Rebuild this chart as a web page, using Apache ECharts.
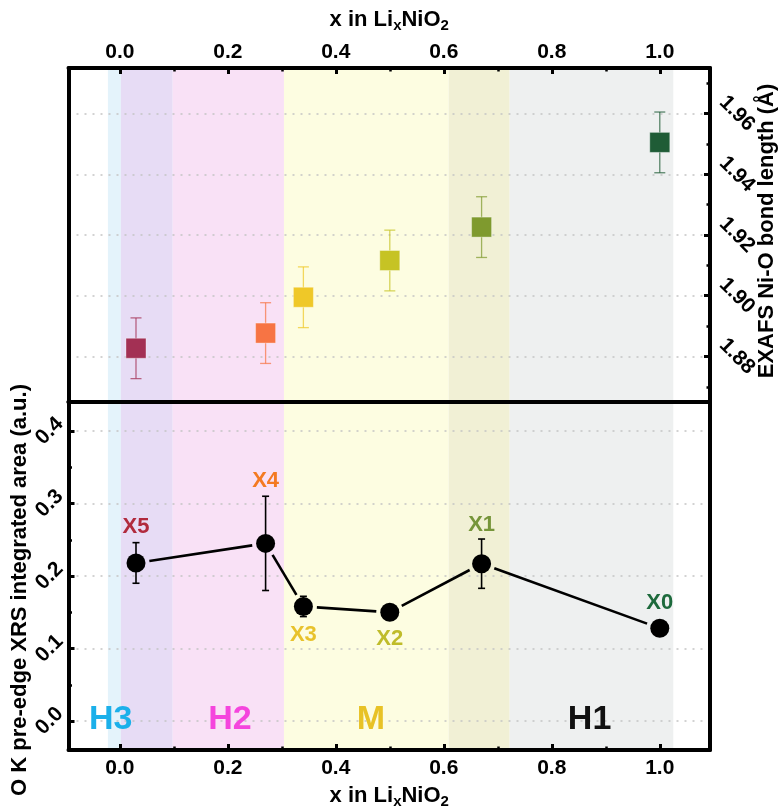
<!DOCTYPE html>
<html>
<head>
<meta charset="utf-8">
<script src="https://cdn.jsdelivr.net/npm/echarts@6/dist/echarts.min.js"></script>
<style>
  html, body { margin: 0; padding: 0; background: #fff; }
  #chart { width: 783px; height: 807px; }
</style>
</head>
<body>
<div id="chart"></div>
<script>
// Samples along the delithiation path of LixNiO2
const sampleNames   = ['X5', 'X4', 'X3', 'X2', 'X1', 'X0'];
const liContent     = [0.03, 0.27, 0.34, 0.50, 0.67, 1.00];
// EXAFS Ni-O bond length (Å) with uncertainty
const bondLength    = [1.8827, 1.8877, 1.8995, 1.9116, 1.9226, 1.9505];
const bondLengthErr = [0.010, 0.010, 0.010, 0.010, 0.010, 0.010];
// O K pre-edge XRS integrated area (a.u.) with uncertainty
const preEdgeArea    = [0.218, 0.245, 0.158, 0.150, 0.217, 0.128];
const preEdgeAreaErr = [0.028, 0.065, 0.014, 0.000, 0.034, 0.000];

// Phase regions (H3, H2, M, H1) as shaded bands; overlaps get their own tint
const bandStart = [-0.022, 0.002, 0.098, 0.304, 0.609, 0.722];
const bandEnd   = [ 0.002, 0.098, 0.304, 0.609, 0.722, 1.025];
const phaseNames = ['H3', 'H2', 'M', 'H1'];
const phaseLabelX = [-0.017, 0.204, 0.465, 0.870];

// Tick values
const xMajorTicks = [0, 0.2, 0.4, 0.6, 0.8, 1.0];
const xMinorTicks = [0.1, 0.3, 0.5, 0.7, 0.9];
const bondMajorTicks = [1.88, 1.90, 1.92, 1.94, 1.96];
const bondMinorTicks = [1.87, 1.89, 1.91, 1.93, 1.95, 1.97];
const areaMajorTicks = [0, 0.1, 0.2, 0.3, 0.4];
const areaMinorTicks = [0.05, 0.15, 0.25, 0.35];

// ---- styling ----
const FONT = '"Liberation Sans", Arial, Helvetica, sans-serif';
const bandColors   = ['#e4f3fb', '#e7dcf5', '#f9e1f6', '#fdfde1', '#f1f0d5', '#eef0f0'];
const squareColors = ['#a33054', '#f77444', '#efc828', '#c6c324', '#7f9a2e', '#1f5c36'];
const sampleLabelColors = ['#b12a3d', '#f47a22', '#e8c22c', '#bfbc2a', '#76953a', '#1d6a3c'];
const sampleLabelShift = [[0, -36], [0, -62], [0, 28], [0, 27], [0, -39], [0, -25]];
const phaseColors = ['#1bb0ea', '#f545dd', '#e8c226', '#111111'];

const X_MIN = -0.095, X_MAX = 1.093;
const BOND_MIN = 1.865, BOND_MAX = 1.975;
const AREA_MIN = -0.04, AREA_MAX = 0.44;

const FRAME = { color: '#000', width: 4 };

function lineOnlyAxis(gridIndex, position, min, max) {
  return {
    type: 'value', gridIndex, position, min, max, z: 5,
    axisLine: { show: true, onZero: false, lineStyle: FRAME },
    axisTick: { show: false }, axisLabel: { show: false }, splitLine: { show: false }
  };
}
function minorTickAxis(gridIndex, position, min, max, values) {
  return {
    type: 'value', gridIndex, position, min, max, z: 5,
    axisLine: { show: false, onZero: false },
    axisTick: { show: true, inside: true, length: 3.5, customValues: values,
                lineStyle: { color: '#000', width: 2.5 } },
    axisLabel: { show: false }, splitLine: { show: false }
  };
}
const tickLabelStyle = { fontFamily: FONT, fontSize: 21, fontWeight: 'bold', color: '#000' };
const majorTick = (values) => ({ show: true, inside: true, length: 6, customValues: values,
                                 lineStyle: { color: '#000', width: 3 } });
const dotted = { show: true, lineStyle: { color: '#c4c4c4', width: 1.5, type: [2, 6] } };

const xTitle = '{m|x in Li}{s|x}{m|NiO}{s|2}';
const xTitleStyle = {
  rich: {
    m: { fontFamily: FONT, fontSize: 22, fontWeight: 'bold', color: '#000' },
    s: { fontFamily: FONT, fontSize: 15, fontWeight: 'bold', color: '#000', padding: [11, 0, 0, 0] }
  }
};

const xAxes = [
  { // top panel, upper axis with labels
    type: 'value', gridIndex: 0, position: 'top', min: X_MIN, max: X_MAX, z: 5,
    axisLine: { show: true, onZero: false, lineStyle: FRAME },
    axisTick: majorTick(xMajorTicks),
    axisLabel: Object.assign({ customValues: xMajorTicks, margin: 5,
                               formatter: v => v.toFixed(1) }, tickLabelStyle),
    splitLine: { show: false },
    name: xTitle, nameLocation: 'middle', nameGap: 35, nameTextStyle: xTitleStyle
  },
  minorTickAxis(0, 'top', X_MIN, X_MAX, xMinorTicks),
  lineOnlyAxis(0, 'bottom', X_MIN, X_MAX),
  { // bottom panel, lower axis with labels
    type: 'value', gridIndex: 1, position: 'bottom', min: X_MIN, max: X_MAX, z: 5,
    axisLine: { show: true, onZero: false, lineStyle: FRAME },
    axisTick: majorTick(xMajorTicks),
    axisLabel: Object.assign({ customValues: xMajorTicks, margin: 8,
                               formatter: v => v.toFixed(1) }, tickLabelStyle),
    splitLine: { show: false },
    name: xTitle, nameLocation: 'middle', nameGap: 33, nameTextStyle: xTitleStyle
  },
  minorTickAxis(1, 'bottom', X_MIN, X_MAX, xMinorTicks),
  lineOnlyAxis(1, 'top', X_MIN, X_MAX)
];

const yAxes = [
  { // top panel, bond length on the right
    type: 'value', gridIndex: 0, position: 'right', min: BOND_MIN, max: BOND_MAX, z: 5,
    axisLine: { show: true, onZero: false, lineStyle: FRAME },
    axisTick: majorTick(bondMajorTicks),
    axisLabel: Object.assign({ customValues: bondMajorTicks, margin: 27, rotate: -45,
                               align: 'center', verticalAlign: 'middle',
                               formatter: v => v.toFixed(2) }, tickLabelStyle),
    splitLine: dotted,
    name: 'EXAFS Ni-O bond length (Å)', nameLocation: 'middle', nameRotate: 90, nameGap: 46,
    nameMoveOverlap: false,
    nameTextStyle: { fontFamily: FONT, fontSize: 22, fontWeight: 'bold', color: '#000',
                     padding: [0, 0, 0, 8] }
  },
  minorTickAxis(0, 'right', BOND_MIN, BOND_MAX, bondMinorTicks),
  lineOnlyAxis(0, 'left', BOND_MIN, BOND_MAX),
  { // bottom panel, pre-edge area on the left
    type: 'value', gridIndex: 1, position: 'left', min: AREA_MIN, max: AREA_MAX, z: 5,
    axisLine: { show: true, onZero: false, lineStyle: FRAME },
    axisTick: majorTick(areaMajorTicks),
    axisLabel: Object.assign({ customValues: areaMajorTicks, margin: 19, rotate: 45,
                               align: 'center', verticalAlign: 'middle',
                               formatter: v => v.toFixed(1) }, tickLabelStyle),
    splitLine: dotted,
    name: 'O K pre-edge XRS integrated area (a.u.)', nameLocation: 'middle', nameRotate: 90,
    nameGap: 38, nameMoveOverlap: false,
    nameTextStyle: { fontFamily: FONT, fontSize: 22, fontWeight: 'bold', color: '#000',
                     padding: [0, 28, 0, 0] }
  },
  minorTickAxis(1, 'left', AREA_MIN, AREA_MAX, areaMinorTicks),
  lineOnlyAxis(1, 'right', AREA_MIN, AREA_MAX)
];

// shaded phase bands spanning the full height of a panel
function bandSeries(xAxisIndex, yAxisIndex, yRef) {
  return {
    type: 'custom', xAxisIndex, yAxisIndex, z: 1, silent: true, clip: true,
    data: bandStart.map((s, i) => [s, yRef, bandEnd[i], i]),
    encode: { x: 0, y: 1 },
    renderItem(params, api) {
      const cs = params.coordSys;
      const x0 = api.coord([api.value(0), yRef])[0];
      const x1 = api.coord([api.value(2), yRef])[0];
      return { type: 'rect', shape: { x: x0, y: cs.y, width: x1 - x0, height: cs.height },
               style: { fill: bandColors[api.value(3)] } };
    }
  };
}

// vertical error bars with caps
function errorBarSeries(xAxisIndex, yAxisIndex, values, errors, colorFn, capHalf, width) {
  return {
    type: 'custom', xAxisIndex, yAxisIndex, z: 8, silent: true,
    data: liContent.map((x, i) => [x, values[i], errors[i], i]),
    encode: { x: 0, y: 1 },
    renderItem(params, api) {
      const x = api.value(0), v = api.value(1), e = api.value(2), i = api.value(3);
      if (!e) return null;
      const hi = api.coord([x, v + e]);
      const lo = api.coord([x, v - e]);
      const style = { stroke: colorFn(i), lineWidth: width };
      return {
        type: 'group',
        children: [
          { type: 'line', shape: { x1: hi[0], y1: hi[1], x2: lo[0], y2: lo[1] }, style },
          { type: 'line', shape: { x1: hi[0] - capHalf, y1: hi[1], x2: hi[0] + capHalf, y2: hi[1] }, style },
          { type: 'line', shape: { x1: lo[0] - capHalf, y1: lo[1], x2: lo[0] + capHalf, y2: lo[1] }, style }
        ]
      };
    }
  };
}

const series = [
  bandSeries(0, 0, BOND_MIN),
  bandSeries(3, 3, AREA_MIN),

  // top panel: bond length error bars and square markers
  errorBarSeries(0, 0, bondLength, bondLengthErr,
                 i => echarts.color.modifyAlpha(squareColors[i], 0.72), 5.5, 1.3),
  {
    type: 'scatter', xAxisIndex: 0, yAxisIndex: 0, z: 10, symbol: 'rect', symbolSize: 20,
    data: liContent.map((x, i) => ({
      value: [x, bondLength[i]],
      itemStyle: { color: squareColors[i], opacity: 1,
                   borderColor: 'rgba(255,255,255,0.35)', borderWidth: 1 }
    }))
  },

  // bottom panel: connecting line, leaving a small gap around each marker
  {
    type: 'custom', xAxisIndex: 3, yAxisIndex: 3, z: 7, silent: true,
    data: liContent.slice(0, -1).map((x, i) => [x, preEdgeArea[i], liContent[i + 1], preEdgeArea[i + 1]]),
    encode: { x: 0, y: 1 },
    renderItem(params, api) {
      const p = api.coord([api.value(0), api.value(1)]);
      const q = api.coord([api.value(2), api.value(3)]);
      const dx = q[0] - p[0], dy = q[1] - p[1];
      const len = Math.sqrt(dx * dx + dy * dy);
      const gap = 13.5;
      const ux = dx / len, uy = dy / len;
      return {
        type: 'line',
        shape: { x1: p[0] + ux * gap, y1: p[1] + uy * gap, x2: q[0] - ux * gap, y2: q[1] - uy * gap },
        style: { stroke: '#000', lineWidth: 2.6 }
      };
    }
  },
  errorBarSeries(3, 3, preEdgeArea, preEdgeAreaErr, () => '#000', 3.5, 1.6),
  {
    type: 'scatter', xAxisIndex: 3, yAxisIndex: 3, z: 10, symbol: 'circle', symbolSize: 19,
    itemStyle: { color: '#000', opacity: 1 },
    data: liContent.map((x, i) => ({
      value: [x, preEdgeArea[i]],
      name: sampleNames[i],
      label: {
        show: true, position: 'inside', offset: sampleLabelShift[i], formatter: '{b}',
        fontFamily: FONT, fontSize: 22, fontWeight: 'bold', color: sampleLabelColors[i]
      }
    }))
  },

  // phase names along the bottom of the lower panel
  {
    type: 'scatter', xAxisIndex: 3, yAxisIndex: 3, z: 9, symbolSize: 0, silent: true,
    itemStyle: { opacity: 1 },
    data: phaseNames.map((n, i) => ({
      value: [phaseLabelX[i], 0],
      name: n,
      label: {
        show: true, position: 'inside', offset: [0, -1], formatter: '{b}',
        fontFamily: FONT, fontSize: 34, fontWeight: 'bold', color: phaseColors[i]
      }
    }))
  }
];

const chart = echarts.init(document.getElementById('chart'), null, { renderer: 'canvas' });
chart.setOption({
  animation: false,
  backgroundColor: '#fff',
  grid: [
    { left: 68.5, right: 73, top: 68, height: 334, containLabel: false, outerBoundsMode: 'none' },
    { left: 68.5, right: 73, top: 402, height: 348, containLabel: false, outerBoundsMode: 'none' }
  ],
  xAxis: xAxes,
  yAxis: yAxes,
  series
});
</script>
</body>
</html>
